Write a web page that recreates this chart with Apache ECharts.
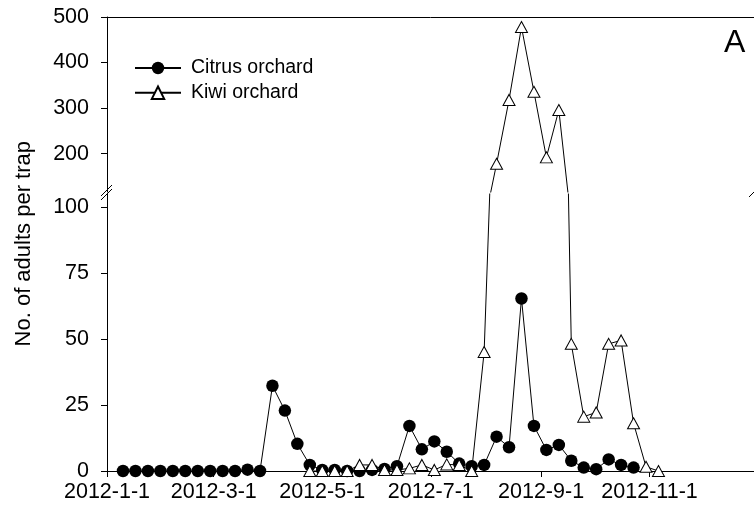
<!DOCTYPE html>
<html><head><meta charset="utf-8">
<script src="https://cdn.jsdelivr.net/npm/echarts@6/dist/echarts.min.js"></script>
<style>html,body{margin:0;padding:0;background:#fff}#c{width:754px;height:516px}</style>
</head><body><div id="c"></div>
<script>
// Sampling dates (weekly)
const dates = ['2012-01-10','2012-01-17','2012-01-24','2012-01-31','2012-02-07','2012-02-14','2012-02-21','2012-02-28',
  '2012-03-06','2012-03-13','2012-03-20','2012-03-27','2012-04-03','2012-04-10','2012-04-17','2012-04-24',
  '2012-05-01','2012-05-08','2012-05-15','2012-05-22','2012-05-29','2012-06-05','2012-06-12','2012-06-19',
  '2012-06-26','2012-07-03','2012-07-10','2012-07-17','2012-07-24','2012-07-31','2012-08-07','2012-08-14',
  '2012-08-21','2012-08-28','2012-09-04','2012-09-11','2012-09-18','2012-09-25','2012-10-02','2012-10-09',
  '2012-10-16','2012-10-23','2012-10-30','2012-11-06'];
// Citrus orchard (first 42 dates)
const citrus = [0,0,0,0,0,0,0,0,0,0,0.5,0,32.3,22.9,10.3,2.3,0.4,0.4,0,0,0.4,0.8,1.8,17.1,8.2,11.2,7.3,2.8,1.8,2.3,
  13,9,65.4,17.1,8,9.9,3.9,1.3,0.7,4.4,2.3,1.3];
// Kiwi orchard (null = not sampled)
const kiwi = [null,null,null,null,null,null,null,null,null,null,null,null,null,null,null,
  0,0,0,0,2.3,2.3,0.4,0.4,1,2.3,0.4,2.5,2.3,0,45.1,178,318,478,336,192,296,48.2,20.6,22.2,48.2,49.5,18.1,1.6,0];

const xTickDates = ['2012-01-01','2012-03-01','2012-05-01','2012-07-01','2012-09-01','2012-11-01'];
const xTickLabels = ['2012-1-1','2012-3-1','2012-5-1','2012-7-1','2012-9-1','2012-11-1'];
const yLowTicks = [0,25,50,75,100];
const yHighTicks = [200,300,400,500];

function ts(s){const p=s.split('-').map(Number);return Date.UTC(p[0],p[1]-1,p[2]);}
const xTickTs = xTickDates.map(ts);
const xMin = ts('2012-01-01');
const xMax = ts('2012-12-29') + 17*3600*1000;

const citrusData = citrus.map((v,i)=>[ts(dates[i]), v]);
const kiwiData = kiwi.map((v,i)=>[ts(dates[i]), v]);

const FF = '"Liberation Sans", Arial, sans-serif';
const black = '#000';
const TICKFS = 21.5;

const chart = echarts.init(document.getElementById('c'), null, {renderer:'canvas'});
const option = {
  animation:false,
  backgroundColor:'#fff',
  title:{text:'A', left:719, top:22, textStyle:{fontSize:32, fontWeight:'normal', fontFamily:FF, color:black}},
  legend:{
    data:['Citrus orchard','Kiwi orchard'], orient:'vertical', left:129, top:53,
    itemWidth:46, itemHeight:15.5, itemGap:4.7,
    textStyle:{fontSize:19.5, fontFamily:FF, color:black, padding:[0,0,0,5]}
  },
  grid:[
    {left:107, right:0, top:17, height:175, containLabel:false},
    {left:107, right:0, top:194, bottom:45, containLabel:false}
  ],
  xAxis:[
    {type:'value', gridIndex:0, position:'top', min:xMin, max:xMax,
     axisLine:{show:true, lineStyle:{color:black, width:1}}, axisTick:{show:false}, axisLabel:{show:false}, splitLine:{show:false}},
    {type:'value', gridIndex:1, position:'bottom', min:xMin, max:xMax,
     axisLine:{show:true, onZero:false, lineStyle:{color:black, width:1}},
     axisTick:{show:true, inside:false, length:6, lineStyle:{color:black}, customValues:xTickTs},
     axisLabel:{show:true, margin:10, fontSize:TICKFS, fontFamily:FF, color:black, customValues:xTickTs,
       formatter:function(v){const i=xTickTs.indexOf(+v);return i>=0?xTickLabels[i]:'';}},
     splitLine:{show:false}}
  ],
  yAxis:[
    {type:'value', gridIndex:0, min:116, max:500,
     axisLine:{show:true, lineStyle:{color:black, width:1}},
     axisTick:{show:true, inside:false, length:6, lineStyle:{color:black}, customValues:yHighTicks},
     axisLabel:{show:true, margin:18, fontSize:TICKFS, fontFamily:FF, color:black, customValues:yHighTicks},
     splitLine:{show:false}},
    {type:'value', gridIndex:1, min:0, max:105,
     axisLine:{show:true, lineStyle:{color:black, width:1}},
     axisTick:{show:true, inside:false, length:6, lineStyle:{color:black}, customValues:yLowTicks},
     axisLabel:{show:true, margin:18, fontSize:TICKFS, fontFamily:FF, color:black, customValues:yLowTicks},
     splitLine:{show:false}}
  ],
  series:[
    {name:'Citrus orchard', type:'line', xAxisIndex:1, yAxisIndex:1, data:citrusData,
     symbol:'circle', symbolSize:12.5, showAllSymbol:true, clip:true,
     lineStyle:{color:black, width:1}, itemStyle:{color:black, borderColor:black, borderWidth:0}},
    {name:'Kiwi orchard', type:'line', xAxisIndex:1, yAxisIndex:1, data:kiwiData,
     symbol:'triangle', symbolSize:[12,11], showAllSymbol:true, clip:true,
     lineStyle:{color:black, width:1}, itemStyle:{color:'#fff', borderColor:black, borderWidth:1}},
    {name:'Kiwi orchard', type:'line', xAxisIndex:0, yAxisIndex:0, data:kiwiData,
     symbol:'triangle', symbolSize:[12,11], showAllSymbol:true, clip:true,
     lineStyle:{color:black, width:1}, itemStyle:{color:'#fff', borderColor:black, borderWidth:1}}
  ],
  graphic:[
    {type:'text', left:13, top:141, rotation:Math.PI/2, style:{text:'No. of adults per trap', fontSize:22, fontFamily:FF, fill:black}},
    {type:'line', shape:{x1:101, y1:196, x2:112, y2:185}, style:{stroke:black, lineWidth:1}},
    {type:'line', shape:{x1:101, y1:200, x2:112, y2:189}, style:{stroke:black, lineWidth:1}},
    {type:'line', shape:{x1:749, y1:197, x2:754, y2:192}, style:{stroke:black, lineWidth:1}}
  ]
};
chart.setOption(option);
</script></body></html>
